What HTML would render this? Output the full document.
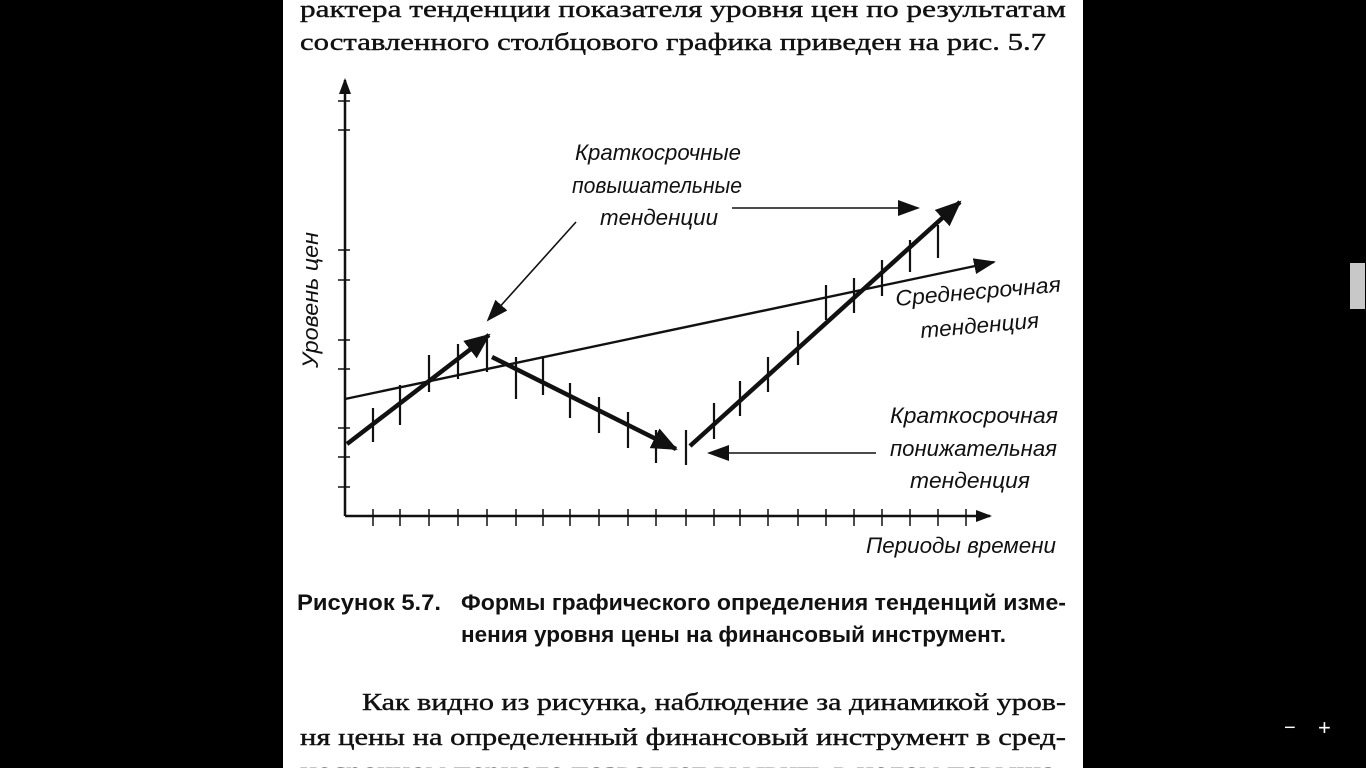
<!DOCTYPE html>
<html><head><meta charset="utf-8"><style>
html,body{margin:0;padding:0;background:#000;width:1366px;height:768px;overflow:hidden}
svg{display:block}
.s{font-family:"Liberation Serif",serif;font-size:24px;fill:#111;stroke:#111;stroke-width:0.4}
.i{font-family:"Liberation Sans",sans-serif;font-style:italic;font-size:22px;fill:#111}
.b{font-family:"Liberation Sans",sans-serif;font-weight:bold;font-size:22px;fill:#111}
</style></head><body>
<svg width="1366" height="768" viewBox="0 0 1366 768" xmlns="http://www.w3.org/2000/svg">
<defs>
<marker id="h" markerWidth="16" markerHeight="12" refX="14" refY="6" orient="auto" markerUnits="userSpaceOnUse"><path d="M0,0 L16,6 L0,12 z" fill="#111"/></marker>
<marker id="hb" markerWidth="26" markerHeight="22" refX="24" refY="11" orient="auto" markerUnits="userSpaceOnUse"><path d="M0,0 L26,11 L0,22 z" fill="#111"/></marker>
<marker id="hm" markerWidth="22" markerHeight="16" refX="20" refY="8" orient="auto" markerUnits="userSpaceOnUse"><path d="M0,0 L22,8 L0,16 z" fill="#111"/></marker>
</defs>
<rect x="283" y="0" width="800" height="768" fill="#fff"/>
<rect x="1350" y="263" width="15" height="46" fill="#c8c8c8"/>
<text x="1284" y="734" fill="#fff" font-family="Liberation Sans" font-size="20">−</text>
<text x="1318" y="735" fill="#fff" font-family="Liberation Sans" font-size="22">+</text>

<text class="s" x="300" y="17" textLength="766" lengthAdjust="spacingAndGlyphs">рактера тенденции показателя уровня цен по результатам</text>
<text class="s" x="300" y="50" textLength="746" lengthAdjust="spacingAndGlyphs">составленного столбцового графика приведен на рис. 5.7</text>

<g stroke="#111" fill="none">
<line x1="345" y1="516" x2="345" y2="80" stroke-width="2.5" marker-end="url(#h)"/>
<line x1="345" y1="516" x2="990" y2="516" stroke-width="2.5" marker-end="url(#h)"/>
<g stroke-width="1.5">
<path d="M338 487h12M338 457h12M338 428h12M338 369h12M338 340h12M338 280h12M338 250h12M338 130h12M338 101h12"/>
<path d="M373 509v17M400 509v17M429 509v17M458 509v17M487 509v17M516 509v17M543 509v17M570 509v17M599 509v17M628 509v17M656 509v17M686 509v17M714 509v17M740 509v17M768 509v17M798 509v17M826 509v17M854 509v17M882 509v17M910 509v17M938 509v17M966 509v17"/>
</g>
<g stroke-width="2.2">
<path d="M373 408V442M400 385V425M429 355V392M458 344V379M487 339V372M516 357V399M543 356V395M570 383V418M599 397V433M628 412V448M656 430V463M686 430V465M714 403V439M740 381V416M768 357V392M798 331V365M826 285V320M854 278V313M882 260V296M910 240V272M938 225V258"/>
</g>
<line x1="345" y1="399" x2="994" y2="262" stroke-width="2.4" marker-end="url(#hm)"/>
<line x1="347" y1="444" x2="489" y2="335" stroke-width="4.5" marker-end="url(#hb)"/>
<line x1="492" y1="357" x2="676" y2="449" stroke-width="4.5" marker-end="url(#hb)"/>
<line x1="690" y1="446" x2="960" y2="202" stroke-width="4.5" marker-end="url(#hb)"/>
<line x1="576" y1="222" x2="488" y2="320" stroke-width="1.6" marker-end="url(#hm)"/>
<line x1="732" y1="208" x2="918" y2="208" stroke-width="1.6" marker-end="url(#hm)"/>
<line x1="876" y1="453" x2="709" y2="453" stroke-width="1.6" marker-end="url(#hm)"/>
</g>

<text class="i" x="575" y="160" textLength="166" lengthAdjust="spacingAndGlyphs">Краткосрочные</text>
<text class="i" x="572" y="193" textLength="170" lengthAdjust="spacingAndGlyphs">повышательные</text>
<text class="i" x="600" y="225" textLength="118" lengthAdjust="spacingAndGlyphs">тенденции</text>
<text class="i" x="896" y="306" textLength="166" lengthAdjust="spacingAndGlyphs" transform="rotate(-5 896 306)">Среднесрочная</text>
<text class="i" x="921" y="338" textLength="119" lengthAdjust="spacingAndGlyphs" transform="rotate(-5 921 338)">тенденция</text>
<text class="i" x="890" y="423" textLength="168" lengthAdjust="spacingAndGlyphs">Краткосрочная</text>
<text class="i" x="890" y="456" textLength="167" lengthAdjust="spacingAndGlyphs">понижательная</text>
<text class="i" x="910" y="488" textLength="120" lengthAdjust="spacingAndGlyphs">тенденция</text>
<text class="i" x="866" y="553" textLength="190" lengthAdjust="spacingAndGlyphs">Периоды времени</text>
<text class="i" x="0" y="0" textLength="136" lengthAdjust="spacingAndGlyphs" transform="translate(318 368) rotate(-90)">Уровень цен</text>

<text class="b" x="297" y="610" textLength="144" lengthAdjust="spacingAndGlyphs">Рисунок 5.7.</text>
<text class="b" x="461" y="610" textLength="605" lengthAdjust="spacingAndGlyphs">Формы графического определения тенденций изме-</text>
<text class="b" x="461" y="642" textLength="545" lengthAdjust="spacingAndGlyphs">нения уровня цены на финансовый инструмент.</text>

<text class="s" x="362" y="710" textLength="704" lengthAdjust="spacingAndGlyphs">Как видно из рисунка, наблюдение за динамикой уров-</text>
<text class="s" x="300" y="745" textLength="766" lengthAdjust="spacingAndGlyphs">ня цены на определенный финансовый инструмент в сред-</text>
<text class="s" x="300" y="779" textLength="766" lengthAdjust="spacingAndGlyphs">несрочном периоде позволяет выявить в целом повыша-</text>
</svg>
</body></html>
